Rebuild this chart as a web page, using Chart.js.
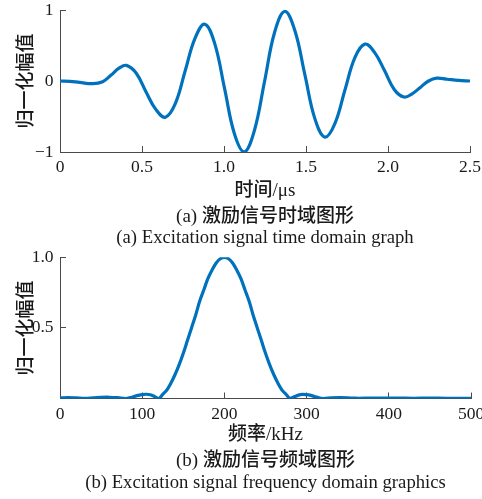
<!DOCTYPE html>
<html>
<head>
<meta charset="utf-8">
<script src="https://cdn.jsdelivr.net/npm/chart.js@4.4.1/dist/chart.umd.min.js"></script>
<style>
  html, body { margin: 0; padding: 0; background: #fff; }
  #wrap { position: relative; width: 482px; height: 499px; overflow: hidden; }
  canvas { position: absolute; left: 0; }
  #timeChart { top: 0; width: 482px; height: 250px; }
  #specChart { top: 244px; width: 482px; height: 255px; }
</style>
</head>
<body>
<div id="wrap">
  <canvas id="timeChart" width="482" height="250"></canvas>
  <canvas id="specChart" width="482" height="255"></canvas>
</div>
<script>
// Excitation tone burst, time domain (t in µs, normalised amplitude)
const timeUs = [0, 0.06, 0.12, 0.20, 0.26, 0.31, 0.36, 0.405, 0.465, 0.524, 0.584, 0.643,
  0.703, 0.763, 0.823, 0.883, 0.943, 1.003, 1.063, 1.123, 1.185, 1.247, 1.309, 1.371,
  1.432, 1.493, 1.554, 1.615, 1.676, 1.737, 1.798, 1.859, 1.919, 1.978, 2.038, 2.097,
  2.147, 2.197, 2.247, 2.297, 2.36, 2.43, 2.5];
const timeAmp = [0, -0.005, -0.02, -0.038, -0.01, 0.08, 0.18, 0.22, 0.11, -0.15, -0.40, -0.51,
  -0.32, 0.14, 0.60, 0.80, 0.53, -0.10, -0.74, -1.00, -0.70, -0.01, 0.69, 0.98,
  0.71, 0.09, -0.53, -0.79, -0.60, -0.13, 0.33, 0.52, 0.40, 0.15, -0.12, -0.226,
  -0.18, -0.09, 0.0, 0.04, 0.025, 0.008, 0.0];

// Its amplitude spectrum (f in kHz, normalised)
const freqKHz = [0, 10, 20, 30, 40, 50, 60, 70, 80, 85, 90, 95, 100, 105, 110, 115, 120,
  125, 130, 135, 140, 145, 150, 155, 160, 165, 170, 175, 180, 185, 190, 195, 200,
  205, 210, 215, 220, 225, 230, 235, 240, 245, 250, 255, 260, 265, 270, 275, 280,
  285, 290, 295, 300, 305, 310, 315, 320, 330, 340, 350, 360, 380, 400, 420, 440, 460, 480, 500];
const specAmp = [0.004, 0.006, 0.004, 0.001, 0.004, 0.008, 0.009, 0.006, 0.0, 0.006, 0.014, 0.022, 0.028, 0.030, 0.026, 0.014, 0.0,
  0.03, 0.06, 0.11, 0.17, 0.24, 0.32, 0.41, 0.50, 0.59, 0.69, 0.77, 0.85, 0.91, 0.96, 0.99, 1.00,
  0.99, 0.96, 0.91, 0.85, 0.77, 0.69, 0.59, 0.50, 0.41, 0.32, 0.24, 0.17, 0.11, 0.06, 0.03, 0.0,
  0.012, 0.024, 0.029, 0.027, 0.022, 0.013, 0.005, 0.0, 0.004, 0.006, 0.005, 0.002, 0.003, 0.003, 0.002, 0.002, 0.002, 0.001, 0.001];

// Tick labels
const timeTickLabels = ['0', '0.5', '1.0', '1.5', '2.0', '2.5'];
const timeAmpTickLabels = ['\u22121', '0', '1'];
const freqTickLabels = ['0', '100', '200', '300', '400', '500'];
const specAmpTickLabels = ['', '0.5', '1.0'];

const AXIS = '#4a4a4a';
const TEXT = '#1a1a1a';
const LINE = '#0072BD';
const SERIF = "'Liberation Serif', 'Times New Roman', serif";
const MIXED = "'Liberation Serif', 'Noto Sans CJK SC', serif";

const tickFont = { family: SERIF, size: 17.5 };
const cjkTitleFont = { family: MIXED, size: 19, weight: 500 };

function axisBase() {
  return {
    type: 'linear',
    border: { display: true, color: AXIS, width: 1 },
    grid: { drawOnChartArea: false, drawTicks: true, tickLength: -6, color: AXIS, lineWidth: 1 }
  };
}

// fixed axis box sizes, no extra room reserved for overhanging end labels
function fixBox(s, size) {
  if (s.isHorizontal()) s.height = size; else s.width = size;
  s.paddingLeft = 0; s.paddingRight = 0; s.paddingTop = 0; s.paddingBottom = 0;
}

function makePanel(canvasId, p) {
  const x = Object.assign(axisBase(), {
    min: p.xMin, max: p.xMax,
    afterFit: s => fixBox(s, p.xHeight),
    ticks: {
      stepSize: p.xStep, padding: p.xTickPad, autoSkip: false, maxRotation: 0,
      color: TEXT, font: tickFont,
      callback: v => p.xLabels[Math.round((v - p.xMin) / p.xStep)] ?? ''
    },
    title: { display: true, text: p.xTitle, color: TEXT, font: cjkTitleFont,
      padding: { top: 0, bottom: p.xTitlePad } }
  });
  const y = Object.assign(axisBase(), {
    min: p.yMin, max: p.yMax,
    afterFit: s => fixBox(s, 60),
    ticks: {
      stepSize: p.yStep, padding: 12.5, autoSkip: false,
      color: TEXT, font: tickFont,
      callback: v => p.yLabels[Math.round((v - p.yMin) / p.yStep)] ?? ''
    },
    title: { display: true, text: '归一化幅值', color: TEXT, font: cjkTitleFont,
      padding: { top: 15.6, bottom: 0 } }
  });

  return new Chart(document.getElementById(canvasId), {
    type: 'line',
    data: {
      datasets: [{
        data: p.xs.map((v, i) => ({ x: v, y: p.ys[i] })),
        borderColor: LINE,
        borderWidth: 3.2,
        pointRadius: 0,
        fill: false,
        tension: p.tension
      }]
    },
    options: {
      responsive: false,
      animation: false,
      devicePixelRatio: 1,
      layout: { autoPadding: false, padding: p.padding },
      scales: { x, y },
      plugins: {
        legend: { display: false },
        tooltip: { enabled: false },
        subtitle: {
          display: true, position: 'bottom', fullSize: false,
          text: p.captionCn, color: TEXT,
          font: { family: MIXED, size: 19, weight: 500, lineHeight: 1.0 },
          padding: { top: p.cnPad, bottom: 0 }
        },
        title: {
          display: true, position: 'bottom', fullSize: false,
          text: p.captionEn, color: TEXT,
          font: { family: SERIF, size: 18.7, weight: 'normal', lineHeight: 1.0 },
          padding: { top: p.enPad, bottom: 0 }
        }
      }
    }
  });
}

makePanel('timeChart', {
  xs: timeUs, ys: timeAmp, tension: 0.4,
  xMin: 0, xMax: 2.5, xStep: 0.5, xLabels: timeTickLabels,
  yMin: -1, yMax: 1, yStep: 1, yLabels: timeAmpTickLabels,
  xTitle: '时间/μs',
  xHeight: 52, xTickPad: 10.5, xTitlePad: 1.6,
  captionCn: '(a) 激励信号时域图形',
  captionEn: '(a) Excitation signal time domain graph',
  cnPad: 3.5, enPad: 2.65,
  padding: { top: 10, right: 12, bottom: 2.15, left: 0 }
});

makePanel('specChart', {
  xs: freqKHz, ys: specAmp, tension: 0.35,
  xMin: 0, xMax: 500, xStep: 100, xLabels: freqTickLabels,
  yMin: 0, yMax: 1, yStep: 0.5, yLabels: specAmpTickLabels,
  xTitle: '频率/kHz',
  xHeight: 47.9, xTickPad: 11, xTitlePad: 0,
  captionCn: '(b) 激励信号频域图形',
  captionEn: '(b) Excitation signal frequency domain graphics',
  cnPad: 5.1, enPad: 3.15,
  padding: { top: 13.3, right: 11, bottom: 6.65, left: 0 }
});
</script>
</body>
</html>
